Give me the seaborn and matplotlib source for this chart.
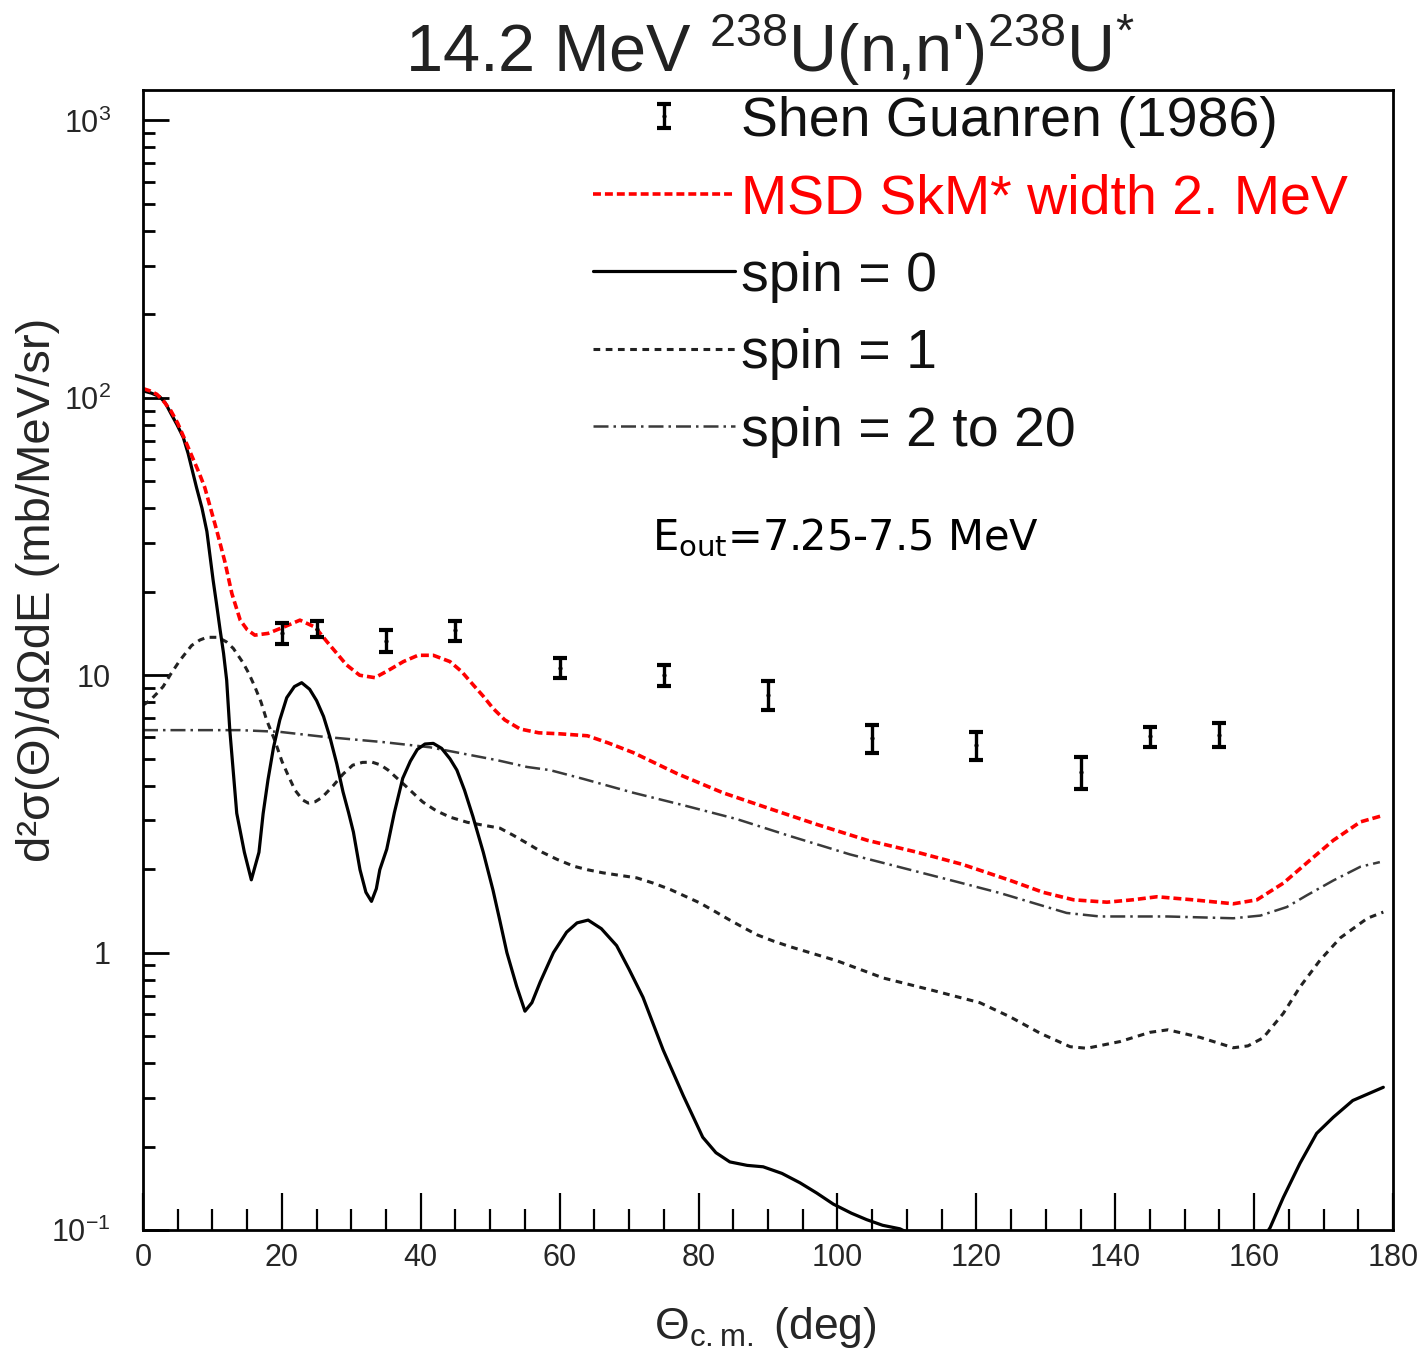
import numpy as np
import pandas as pd
import matplotlib
matplotlib.use("Agg")
import matplotlib.pyplot as plt
import seaborn as sns
from matplotlib.ticker import FixedLocator, FixedFormatter, LogLocator, NullFormatter, MultipleLocator
from matplotlib.container import ErrorbarContainer
from matplotlib.legend_handler import HandlerErrorbar

# ---------------- data ----------------
theta_exp = [20, 25, 35, 45, 60, 75, 90, 105, 120, 135, 145, 155]
sigma_exp = [14.2, 14.7, 13.3, 14.5, 10.65, 10.0, 8.5, 5.93, 5.6, 4.48, 6.02, 6.1]
err_exp = [1.2, 0.95, 1.2, 1.2, 0.9, 0.85, 1.0, 0.67, 0.65, 0.6, 0.5, 0.6]

theta_msd = [0, 1, 2, 3, 4, 5, 6, 7, 8.1, 8.9, 10.6, 11.8, 12.8, 14, 15, 16.1, 18, 20.5, 22.6,
             24.8, 26.5, 27.9, 29.3, 31.2, 33.4, 35.3, 37.5, 39.6, 41.8, 44.2, 45.9, 47.6, 49,
             50.4, 52.1, 54.3, 57, 60, 64, 67, 70.6, 76.9, 83.5, 90.3, 97, 104.3, 111.5, 118,
             124.9, 129.6, 134, 138.8, 142.5, 146, 151.2, 157, 160.4, 164.2, 168, 171.4, 175.3, 178.5]
sigma_msd = [108, 106, 103, 97, 90, 81, 71, 62, 53.5, 47.5, 33.4, 25.6, 19.7, 15.8, 14.6, 13.95,
             14.15, 15.0, 15.8, 14.9, 13.2, 12.0, 10.9, 10.0, 9.8, 10.4, 11.2, 11.8, 11.8, 11.2,
             10.3, 9.2, 8.4, 7.6, 6.9, 6.4, 6.2, 6.15, 6.05, 5.7, 5.26, 4.42, 3.77, 3.30, 2.90,
             2.54, 2.30, 2.08, 1.82, 1.65, 1.55, 1.52, 1.55, 1.59, 1.55, 1.50, 1.55, 1.78, 2.15,
             2.54, 2.96, 3.12]

theta_s0 = [0, 1.2, 2.4, 3.2, 4, 4.9, 5.8, 6.5, 7.2, 7.7, 8.5, 9.2, 10.1, 10.6, 11.1, 11.6, 12.05,
            12.5, 13.5, 14.6, 15.6, 16.7, 17.3, 18.0, 18.8, 19.7, 20.7, 21.8, 22.85, 24, 25, 26,
            26.9, 27.9, 28.8, 29.6, 30.3, 31.25, 32.1, 32.9, 33.6, 34.1, 35.1, 36.2, 37.4, 38.5,
            39.5, 40.6, 41.8, 43, 44.2, 45.2, 46.3, 47.5, 49, 50.4, 51.4, 52.4, 53.8, 55, 56,
            57.2, 59.1, 61, 62.5, 64.1, 66, 68.2, 70, 72, 74.9, 77.8, 80.6, 82.5, 84.5, 87, 89.3,
            92, 94.6, 97, 99.4, 102, 104.2, 106.5, 109, 113, 120, 130, 140, 150, 158, 162.3,
            164.2, 166.6, 169, 171.4, 174.2, 178.6]
sigma_s0 = [106, 104, 101, 96, 88, 80, 72, 63, 53.5, 47.6, 40, 33, 22, 18, 14.6, 12, 9.6,
            6.35, 3.18, 2.3, 1.83, 2.3, 3.17, 4.2, 5.5, 6.9, 8.3, 9.1, 9.4, 8.9, 8.1, 7.1,
            6.0, 4.8, 3.8, 3.2, 2.72, 1.99, 1.65, 1.53, 1.7, 1.99, 2.36, 3.2, 4.25, 4.9,
            5.4, 5.65, 5.68, 5.45, 5.0, 4.55, 3.85, 3.1, 2.3, 1.68, 1.3, 1.0, 0.757, 0.615, 0.66,
            0.784, 1.0, 1.185, 1.28, 1.31, 1.22, 1.06, 0.87, 0.69, 0.446, 0.305, 0.216, 0.19, 0.176,
            0.171, 0.169, 0.16, 0.148, 0.136, 0.124, 0.115, 0.109, 0.104, 0.101, 0.09, 0.07, 0.05,
            0.04, 0.045, 0.07, 0.102, 0.131, 0.174, 0.223, 0.255, 0.293, 0.327]

theta_s1 = [0, 1, 2, 2.9, 4, 5.3, 7, 8.2, 9.2, 10.8, 12, 13, 14.4, 15.2, 16.1, 17, 17.8, 19, 20,
            21, 21.9, 23, 23.8, 24.8, 25.8, 27.4, 28.8, 30.2, 31.6, 33, 34.2, 35.3, 36.6, 38,
            39.2, 40.3, 42.2, 44.2, 46.7, 49, 51.4, 53.3, 55.3, 57.5, 59.6, 62, 64, 66.2, 68.6,
            71.1, 73.5, 75.9, 78, 80.2, 82.3, 84.5, 86.5, 88.4, 90.8, 93.2, 99.9, 106.6, 113.8,
            120.5, 124.9, 129.2, 133.5, 135.9, 140.7, 145, 147.6, 152.2, 157, 159.1, 161.3,
            164.2, 166.6, 169.5, 172.4, 176.3, 178.6]
sigma_s1 = [7.8, 8.1, 8.6, 9.1, 10.1, 11.3, 12.8, 13.4, 13.7, 13.7, 13.2, 12.5, 11.1, 10.2, 9.1,
            8.0, 6.9, 5.8, 4.9, 4.3, 3.85, 3.55, 3.46, 3.5, 3.63, 4.0, 4.4, 4.74, 4.85, 4.86,
            4.75, 4.55, 4.25, 3.95, 3.7, 3.49, 3.25, 3.08, 2.95, 2.88, 2.81, 2.65, 2.48, 2.3,
            2.17, 2.05, 1.99, 1.94, 1.9, 1.86, 1.78, 1.69, 1.6, 1.51, 1.41, 1.31, 1.23, 1.16,
            1.1, 1.05, 0.935, 0.81, 0.73, 0.66, 0.586, 0.512, 0.458, 0.452, 0.478, 0.516, 0.527,
            0.495, 0.454, 0.461, 0.493, 0.604, 0.752, 0.94, 1.13, 1.33, 1.40]

theta_s2 = [0, 7.8, 14, 19.7, 26, 34.6, 41.3, 51, 55.3, 58.6, 63.4, 70.6, 77.8, 85.5, 93.2, 101.8,
            109.4, 117.2, 123.4, 128.2, 133, 137.8, 147.5, 157, 160.9, 164.7, 167.6, 171.4, 175.3,
            178.1]
sigma_s2 = [6.34, 6.34, 6.34, 6.25, 6.0, 5.74, 5.5, 4.94, 4.67, 4.55, 4.23, 3.77, 3.40, 3.03,
            2.63, 2.26, 2.02, 1.80, 1.64, 1.51, 1.39, 1.35, 1.35, 1.33, 1.36, 1.46, 1.61, 1.82,
            2.04, 2.12]

x_ticks = [0, 20, 40, 60, 80, 100, 120, 140, 160, 180]
y_ticks = [0.1, 1, 10, 100, 1000]
y_ticklabels = [r"$\mathregular{10^{-1}}$", "1", "10", r"$\mathregular{10^{2}}$", r"$\mathregular{10^{3}}$"]

label_exp = "Shen Guanren (1986)"
label_msd = "MSD SkM* width 2. MeV"
label_s0 = "spin = 0"
label_s1 = "spin = 1"
label_s2 = "spin = 2 to 20"

# ---------------- style ----------------
sns.set_theme(style="white")
plt.rcParams["font.family"] = ["Liberation Sans", "DejaVu Sans"]
plt.rcParams["mathtext.default"] = "regular"
plt.rcParams["axes.linewidth"] = 2.0
plt.rcParams["xtick.bottom"] = True
plt.rcParams["ytick.left"] = True

fig = plt.figure(figsize=(14.27, 13.53), dpi=100)
ax = fig.add_axes([0.1002, 0.0909, 0.876, 0.8426])
ax.set_yscale("log")

sns.lineplot(x=theta_s2, y=sigma_s2, ax=ax, color="#3a3a3a", lw=1.8,
             linestyle=(0, (6, 2, 1, 2)), label=label_s2, sort=False, estimator=None)
sns.lineplot(x=theta_s1, y=sigma_s1, ax=ax, color="#222222", lw=2.2,
             linestyle=(0, (2.2, 1.8)), label=label_s1, sort=False, estimator=None)
sns.lineplot(x=theta_s0, y=sigma_s0, ax=ax, color="black", lw=2.3,
             linestyle="-", label=label_s0, sort=False, estimator=None)
sns.lineplot(x=theta_msd, y=sigma_msd, ax=ax, color="#ff0000", lw=2.6,
             linestyle=(0, (2.2, 1.1)), label=label_msd, sort=False, estimator=None)
ax.errorbar(theta_exp, sigma_exp, yerr=err_exp, fmt=".", ms=4, color="black",
            ecolor="black", elinewidth=2.4, capsize=5, capthick=3, label=label_exp)

ax.set_xlim(0, 180)
ax.set_ylim(0.1, 1288)

ax.xaxis.set_major_locator(FixedLocator(x_ticks))
ax.xaxis.set_minor_locator(MultipleLocator(5))
ax.yaxis.set_major_locator(FixedLocator(y_ticks))
ax.yaxis.set_major_formatter(FixedFormatter(y_ticklabels))
ax.yaxis.set_minor_locator(LogLocator(base=10, subs=np.arange(2, 10)))
ax.yaxis.set_minor_formatter(NullFormatter())

ax.tick_params(axis="x", which="major", direction="in", length=27, width=1.6, pad=9,
               labelsize=22, top=False, bottom=True, color="black")
ax.tick_params(axis="x", which="minor", direction="in", length=15, width=1.6,
               top=False, bottom=True, color="black")
ax.tick_params(axis="y", which="major", direction="in", length=19, width=2.0, pad=23,
               labelsize=22, right=False, left=True, color="black")
ax.tick_params(axis="y", which="minor", direction="in", length=8.6, width=2.0,
               right=False, left=True, color="black")
for s in ax.spines.values():
    s.set_visible(True)
    s.set_color("black")
    s.set_linewidth(2.0)
ax.set_xlabel("")
ax.set_ylabel("")

# legend
handles, labels = ax.get_legend_handles_labels()
order = [label_exp, label_msd, label_s0, label_s1, label_s2]
hmap = dict(zip(labels, handles))
leg = ax.legend([hmap[l] for l in order], order, loc="upper left", bbox_to_anchor=(0.36, 0.995),
                frameon=False, fontsize=40, handlelength=2.55, handletextpad=0.12,
                labelspacing=0.46, borderaxespad=0.0, borderpad=0.0,
                handler_map={ErrorbarContainer: HandlerErrorbar(xerr_size=0.22)})
for t in leg.get_texts():
    t.set_color("#111111")
leg.get_texts()[1].set_color("#ff0000")

# annotation
ax.text(0.407, 0.607, r"E$_{\mathregular{out}}$=7.25-7.5 MeV", transform=ax.transAxes,
        fontsize=30, family="DejaVu Sans", va="center", ha="left", color="black")

fig.text(0.5396, 0.963, r"14.2 MeV $^{238}$U(n,n')$^{238}$U$^{*}$", fontsize=48,
         ha="center", va="center", color="#222222")
fig.text(38 / 1427, 1 - 590 / 1353, "d²σ(Θ)/dΩdE (mb/MeV/sr)", rotation=90, fontsize=34,
         ha="center", va="center")
fig.text(765 / 1427, 1 - 1328 / 1353, r"$\Theta_{c.m.}$ (deg)", fontsize=32,
         ha="center", va="center")

fig.savefig("out.png", dpi=100, facecolor="white")
